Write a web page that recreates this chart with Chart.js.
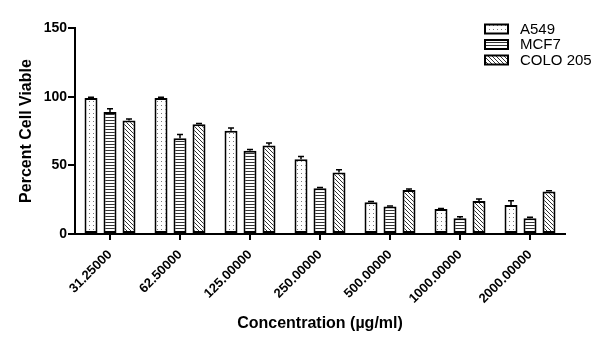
<!DOCTYPE html>
<html><head><meta charset="utf-8">
<script src="https://cdn.jsdelivr.net/npm/chart.js@4.4.1/dist/chart.umd.min.js"></script>
<style>html,body{margin:0;padding:0;background:#fff}#wrap{width:608px;height:347px}</style>
</head><body><div id="wrap"><canvas id="c" width="608" height="347"></canvas></div>
<script>
const categories = ['31.25000','62.50000','125.00000','250.00000','500.00000','1000.00000','2000.00000'];
const seriesNames = ['A549','MCF7','COLO 205'];
const a549 = [99.0, 99.0, 75.2, 54.5, 23.1, 18.2, 21.2];
const mcf7 = [88.8, 69.8, 60.6, 33.3, 20.0, 11.4, 11.4];
const colo205 = [82.7, 80.0, 64.5, 44.7, 32.1, 24.0, 30.9];
const a549Err = [0.6, 0.6, 2.0, 1.9, 0.5, 0.4, 3.1];
const mcf7Err = [2.4, 2.6, 1.0, 0.6, 0.4, 1.2, 0.8];
const colo205Err = [1.0, 0.4, 1.7, 2.0, 0.6, 1.5, 0.6];
const yTicks = [0, 50, 100, 150];

function makePattern(kind){
  const t = document.createElement('canvas');
  const ctx = t.getContext('2d');
  if (kind === 'dots'){
    t.width = 4; t.height = 4;
    ctx.fillStyle = '#fff'; ctx.fillRect(0,0,4,4);
    ctx.fillStyle = '#777'; ctx.fillRect(1,1,1,1);
  } else if (kind === 'hlines'){
    t.width = 4; t.height = 3;
    ctx.fillStyle = '#fff'; ctx.fillRect(0,0,4,3);
    ctx.fillStyle = '#333'; ctx.fillRect(0,0,4,1);
  } else {
    t.width = 4; t.height = 4;
    ctx.fillStyle = '#fff'; ctx.fillRect(0,0,4,4);
    ctx.fillStyle = '#333';
    for (let i=0;i<4;i++) ctx.fillRect(i,i,1,1);
  }
  return document.getElementById('c').getContext('2d').createPattern(t,'repeat');
}
const patterns = [makePattern('dots'), makePattern('hlines'), makePattern('diag')];
const values = [a549, mcf7, colo205];
const errors = [a549Err, mcf7Err, colo205Err];

const errorBarPlugin = {
  id: 'errorBars',
  afterDatasetsDraw(chart){
    const ctx = chart.ctx, y = chart.scales.y;
    ctx.save();
    ctx.strokeStyle = '#000'; ctx.lineWidth = 1.5;
    chart.data.datasets.forEach((ds, di) => {
      const meta = chart.getDatasetMeta(di);
      meta.data.forEach((bar, i) => {
        const top = y.getPixelForValue(ds.data[i] + errors[di][i]);
        ctx.beginPath();
        ctx.moveTo(bar.x, bar.y); ctx.lineTo(bar.x, top);
        ctx.moveTo(bar.x - 3, top); ctx.lineTo(bar.x + 3, top);
        ctx.stroke();
      });
    });
    ctx.restore();
  }
};

const legendPlugin = {
  id: 'customLegend',
  afterDraw(chart){
    const ctx = chart.ctx, ca = chart.chartArea;
    ctx.save();
    ctx.font = '15px "Liberation Sans", Arial, sans-serif';
    ctx.textBaseline = 'middle';
    seriesNames.forEach((name, i) => {
      const bx = ca.right - 80, cy = ca.top + 1 + i * 15.5;
      ctx.fillStyle = patterns[i];
      ctx.fillRect(bx, cy - 4.5, 23, 9);
      ctx.strokeStyle = '#000'; ctx.lineWidth = 2;
      ctx.strokeRect(bx, cy - 4.5, 23, 9);
      ctx.fillStyle = '#000';
      ctx.fillText(name, bx + 35, cy + 0.5);
    });
    ctx.restore();
  }
};

new Chart(document.getElementById('c'), {
  type: 'bar',
  data: {
    labels: categories,
    datasets: seriesNames.map((n, i) => ({
      label: n, data: values[i],
      backgroundColor: patterns[i], borderColor: '#000', borderWidth: 2,
      borderSkipped: false,
      categoryPercentage: 0.814, barPercentage: 0.684
    }))
  },
  options: {
    responsive: false, animation: false,
    layout: { padding: { top: 28, right: 43, left: 0, bottom: 0 } },
    plugins: { legend: { display: false }, tooltip: { enabled: false } },
    scales: {
      x: {
        afterFit(s){ s.height = 347 - 234; },
        grid: { display: true, offset: false, drawOnChartArea: false, drawTicks: true, tickLength: 6, color: '#000', lineWidth: 2 },
        border: { display: true, color: '#000', width: 2 },
        ticks: { minRotation: 45, maxRotation: 45, padding: 7, color: '#000', font: { family: '"Liberation Sans", Arial, sans-serif', size: 13, weight: 'bold' } },
        title: { display: true, text: 'Concentration (µg/ml)', color: '#000', padding: { top: 0, bottom: 14 }, font: { family: '"Liberation Sans", Arial, sans-serif', size: 16, weight: 'bold' } }
      },
      y: {
        min: 0, max: 150,
        afterFit(s){ s.width = 75; },
        afterBuildTicks(s){ s.ticks = yTicks.map(v => ({ value: v })); },
        grid: { display: true, drawOnChartArea: false, drawTicks: true, tickLength: 7, color: '#000', lineWidth: 2 },
        border: { display: true, color: '#000', width: 2 },
        ticks: { padding: 1, color: '#000', font: { family: '"Liberation Sans", Arial, sans-serif', size: 14, weight: 'bold' } },
        title: { display: true, text: 'Percent Cell Viable', color: '#000', padding: { top: 17, bottom: 0 }, font: { family: '"Liberation Sans", Arial, sans-serif', size: 16, weight: 'bold' } }
      }
    }
  },
  plugins: [errorBarPlugin, legendPlugin]
});
</script>
</body></html>
